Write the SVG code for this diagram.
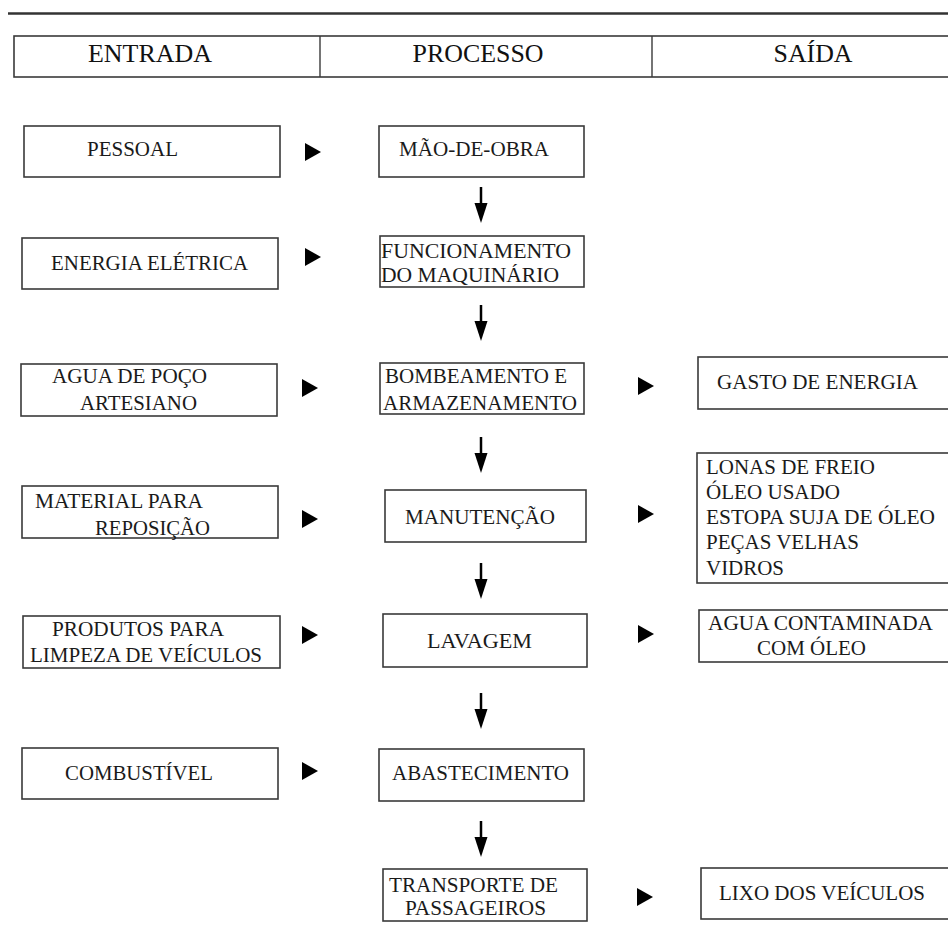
<svg xmlns="http://www.w3.org/2000/svg" xmlns:xlink="http://www.w3.org/1999/xlink" width="948" height="938" viewBox="0 0 948 938">
<style>
  .bg { fill: #ffffff; }
  .box { fill: #ffffff; stroke: #3a3a3a; stroke-width: 1.6; }
  .t { font-family: "Liberation Serif", "DejaVu Serif", "Times New Roman", serif; font-size: 21px; fill: #1a1a1a; }
  .h { font-family: "Liberation Serif", "DejaVu Serif", "Times New Roman", serif; font-size: 26px; fill: #111111; text-anchor: middle; }
  .arr { fill: #000000; stroke: none; }
  .shaft { stroke: #000000; stroke-width: 2.5; }
</style>
<defs>
  <polygon id="tri" class="arr" points="0,-9 16,0 0,9"/>
  <g id="down">
    <line class="shaft" x1="0" y1="0" x2="0" y2="18"/>
    <polygon class="arr" points="-6.5,16 6.5,16 0,36"/>
  </g>
</defs>
<rect class="bg" x="0" y="0" width="948" height="938"/>

<g id="header">
  <line x1="8" y1="13.5" x2="948" y2="13.5" stroke="#333333" stroke-width="2.5"/>
  <rect class="box" x="14" y="36" width="940" height="41"/>
  <line x1="320" y1="36" x2="320" y2="77" stroke="#3a3a3a" stroke-width="1.4"/>
  <line x1="652" y1="36" x2="652" y2="77" stroke="#3a3a3a" stroke-width="1.4"/>
  <text class="h" x="150" y="62" textLength="124" lengthAdjust="spacingAndGlyphs">ENTRADA</text>
  <text class="h" x="478" y="62" textLength="131" lengthAdjust="spacingAndGlyphs">PROCESSO</text>
  <text class="h" x="813" y="62" textLength="79" lengthAdjust="spacingAndGlyphs">SAÍDA</text>
</g>

<g id="in-pessoal">
  <rect class="box" x="24" y="126" width="256" height="51"/>
  <text class="t" x="87" y="156" textLength="91" lengthAdjust="spacingAndGlyphs">PESSOAL</text>
</g>
<g id="in-energia">
  <rect class="box" x="22" y="238" width="256" height="51"/>
  <text class="t" x="51" y="270" textLength="197" lengthAdjust="spacingAndGlyphs">ENERGIA ELÉTRICA</text>
</g>
<g id="in-agua">
  <rect class="box" x="21" y="364" width="256" height="52"/>
  <text class="t" x="52" y="383" textLength="155" lengthAdjust="spacingAndGlyphs">AGUA DE POÇO</text>
  <text class="t" x="80" y="410" textLength="117" lengthAdjust="spacingAndGlyphs">ARTESIANO</text>
</g>
<g id="in-material">
  <rect class="box" x="22" y="486" width="256" height="52"/>
  <text class="t" x="35" y="508" textLength="168" lengthAdjust="spacingAndGlyphs">MATERIAL PARA</text>
  <text class="t" x="95" y="535" textLength="115" lengthAdjust="spacingAndGlyphs">REPOSIÇÃO</text>
</g>
<g id="in-produtos">
  <rect class="box" x="23" y="616" width="257" height="52"/>
  <text class="t" x="52" y="636" textLength="172" lengthAdjust="spacingAndGlyphs">PRODUTOS PARA</text>
  <text class="t" x="30" y="662" textLength="232" lengthAdjust="spacingAndGlyphs">LIMPEZA DE VEÍCULOS</text>
</g>
<g id="in-combustivel">
  <rect class="box" x="22" y="748" width="256" height="51"/>
  <text class="t" x="65" y="780" textLength="148" lengthAdjust="spacingAndGlyphs">COMBUSTÍVEL</text>
</g>

<g id="p-maodeobra">
  <rect class="box" x="379" y="126" width="205" height="51"/>
  <text class="t" x="399" y="156" textLength="150" lengthAdjust="spacingAndGlyphs">MÃO-DE-OBRA</text>
</g>
<g id="p-funcionamento">
  <rect class="box" x="380" y="236" width="204" height="51"/>
  <text class="t" x="381" y="258" textLength="190" lengthAdjust="spacingAndGlyphs">FUNCIONAMENTO</text>
  <text class="t" x="381" y="282" textLength="178" lengthAdjust="spacingAndGlyphs">DO MAQUINÁRIO</text>
</g>
<g id="p-bombeamento">
  <rect class="box" x="380" y="363" width="204" height="51"/>
  <text class="t" x="385" y="383" textLength="182" lengthAdjust="spacingAndGlyphs">BOMBEAMENTO E</text>
  <text class="t" x="383" y="410" textLength="194" lengthAdjust="spacingAndGlyphs">ARMAZENAMENTO</text>
</g>
<g id="p-manutencao">
  <rect class="box" x="385" y="490" width="201" height="52"/>
  <text class="t" x="405" y="524" textLength="150" lengthAdjust="spacingAndGlyphs">MANUTENÇÃO</text>
</g>
<g id="p-lavagem">
  <rect class="box" x="383" y="614" width="204" height="53"/>
  <text class="t" x="427" y="648" textLength="105" lengthAdjust="spacingAndGlyphs">LAVAGEM</text>
</g>
<g id="p-abastecimento">
  <rect class="box" x="379" y="749" width="205" height="52"/>
  <text class="t" x="392" y="780" textLength="177" lengthAdjust="spacingAndGlyphs">ABASTECIMENTO</text>
</g>
<g id="p-transporte">
  <rect class="box" x="383" y="869" width="204" height="52"/>
  <text class="t" x="389" y="892" textLength="169" lengthAdjust="spacingAndGlyphs">TRANSPORTE DE</text>
  <text class="t" x="405" y="915" textLength="141" lengthAdjust="spacingAndGlyphs">PASSAGEIROS</text>
</g>

<g id="out-gasto">
  <rect class="box" x="698" y="357" width="260" height="52"/>
  <text class="t" x="717" y="389" textLength="201" lengthAdjust="spacingAndGlyphs">GASTO DE ENERGIA</text>
</g>
<g id="out-residuos">
  <rect class="box" x="697" y="453" width="261" height="130"/>
  <text class="t" x="706" y="474" textLength="169" lengthAdjust="spacingAndGlyphs">LONAS DE FREIO</text>
  <text class="t" x="706" y="499" textLength="134" lengthAdjust="spacingAndGlyphs">ÓLEO USADO</text>
  <text class="t" x="706" y="524" textLength="229" lengthAdjust="spacingAndGlyphs">ESTOPA SUJA DE ÓLEO</text>
  <text class="t" x="706" y="549" textLength="153" lengthAdjust="spacingAndGlyphs">PEÇAS VELHAS</text>
  <text class="t" x="706" y="575" textLength="78" lengthAdjust="spacingAndGlyphs">VIDROS</text>
</g>
<g id="out-agua">
  <rect class="box" x="699" y="610" width="259" height="52"/>
  <text class="t" x="708" y="630" textLength="225" lengthAdjust="spacingAndGlyphs">AGUA CONTAMINADA</text>
  <text class="t" x="757" y="655" textLength="109" lengthAdjust="spacingAndGlyphs">COM ÓLEO</text>
</g>
<g id="out-lixo">
  <rect class="box" x="701" y="868" width="257" height="51"/>
  <text class="t" x="719" y="900" textLength="206" lengthAdjust="spacingAndGlyphs">LIXO DOS VEÍCULOS</text>
</g>

<g id="connectors">
  <use xlink:href="#tri" x="305" y="152"/>
  <use xlink:href="#tri" x="305" y="257"/>
  <use xlink:href="#tri" x="302" y="388"/>
  <use xlink:href="#tri" x="302" y="519"/>
  <use xlink:href="#tri" x="302" y="635"/>
  <use xlink:href="#tri" x="302" y="771"/>
  <use xlink:href="#tri" x="638" y="386"/>
  <use xlink:href="#tri" x="638" y="514"/>
  <use xlink:href="#tri" x="638" y="634"/>
  <use xlink:href="#tri" x="637" y="897"/>
  <use xlink:href="#down" x="481" y="187"/>
  <use xlink:href="#down" x="481" y="305"/>
  <use xlink:href="#down" x="481" y="437"/>
  <use xlink:href="#down" x="481" y="563"/>
  <use xlink:href="#down" x="481" y="693"/>
  <use xlink:href="#down" x="481" y="821"/>
</g>
</svg>
